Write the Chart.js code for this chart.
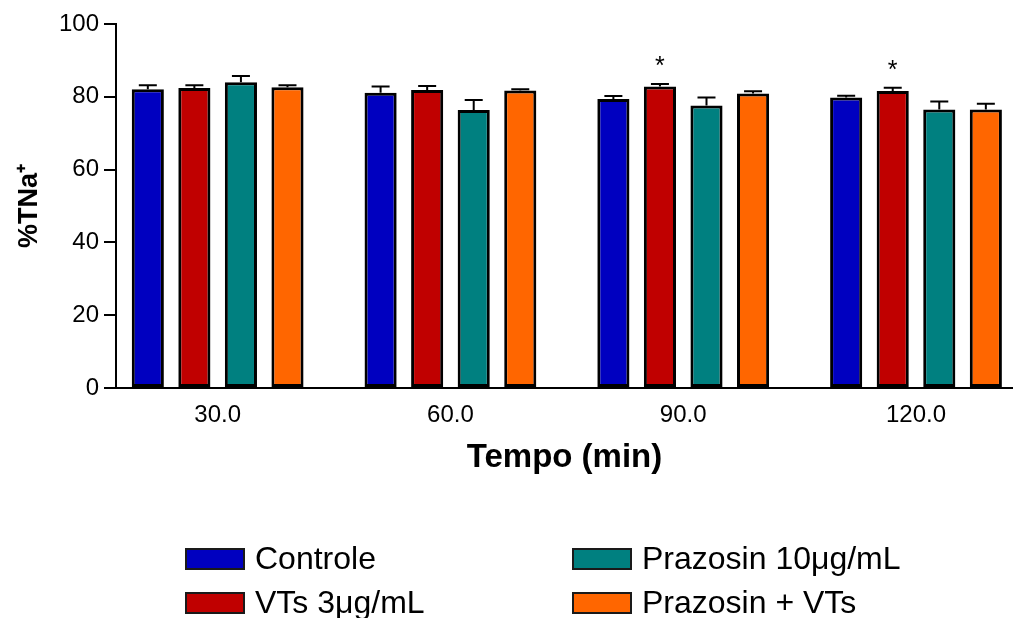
<!DOCTYPE html>
<html>
<head>
<meta charset="utf-8">
<title>%TNa+ x Tempo</title>
<script src="https://cdn.jsdelivr.net/npm/chart.js@4.4.1/dist/chart.umd.min.js"></script>
<style>
  html, body { margin: 0; padding: 0; background: #fff; }
</style>
</head>
<body>
<canvas id="tna-chart" width="1013" height="618"></canvas>
<script>
const timepoints = [30, 60, 90, 120];
const seriesNames = ["Controle", "VTs 3μg/mL", "Prazosin 10μg/mL", "Prazosin + VTs"];
const seriesColors = ["#0000c0", "#c00000", "#008080", "#ff6600"];

const controle = [82.1, 81.1, 79.4, 79.8];
const controleErr = [1.1, 1.7, 0.8, 0.5];
const vts = [82.4, 81.9, 82.8, 81.6];
const vtsErr = [0.8, 1.1, 0.7, 0.9];
const prazosin = [84.0, 76.4, 77.6, 76.5];
const prazosinErr = [1.7, 2.7, 2.2, 2.2];
const prazosinVts = [82.6, 81.7, 80.9, 76.5];
const prazosinVtsErr = [0.6, 0.4, 0.6, 1.6];

// significance marks, only on VTs
const vtsStars = ["", "", "*", "*"];

const yTicks = [0, 20, 40, 60, 80, 100];

const FONT = "'Liberation Sans', Arial, sans-serif";

const allValues = [controle, vts, prazosin, prazosinVts];
const allErrors = [controleErr, vtsErr, prazosinErr, prazosinVtsErr];
const allStars = [[], vtsStars, [], []];

const datasets = seriesNames.map((name, i) => ({
    label: name,
    data: timepoints.map((t, j) => ({ x: t, y: allValues[i][j] })),
    errors: allErrors[i],
    stars: allStars[i],
    backgroundColor: seriesColors[i],
    borderColor: '#000',
    borderWidth: 3,
    borderSkipped: false,
    categoryPercentage: 0.8,
    barPercentage: 0.69
}));

// error bars (upper only) + asterisks
const errorBars = {
    id: 'errorBars',
    afterDatasetsDraw(chart) {
        const ctx = chart.ctx;
        const yScale = chart.scales.y;
        ctx.save();
        ctx.strokeStyle = '#000';
        ctx.lineWidth = 2;
        chart.data.datasets.forEach((ds, i) => {
            const meta = chart.getDatasetMeta(i);
            meta.data.forEach((bar, j) => {
                const top = yScale.getPixelForValue(ds.data[j].y + ds.errors[j]);
                ctx.beginPath();
                ctx.moveTo(bar.x, bar.y);
                ctx.lineTo(bar.x, top);
                ctx.moveTo(bar.x - 9, top);
                ctx.lineTo(bar.x + 9, top);
                ctx.stroke();
                if (ds.stars[j]) {
                    ctx.fillStyle = '#000';
                    ctx.font = '25px ' + FONT;
                    ctx.textAlign = 'center';
                    ctx.textBaseline = 'alphabetic';
                    ctx.fillText(ds.stars[j], bar.x, top - 10);
                }
            });
        });
        ctx.restore();
    }
};

// legend in two columns like the original figure
const gridLegend = {
    id: 'gridLegend',
    afterDraw(chart) {
        const ctx = chart.ctx;
        const cols = [185, 572];
        const rows = [548, 592];
        ctx.save();
        ctx.font = '32px ' + FONT;
        ctx.textBaseline = 'middle';
        ctx.textAlign = 'left';
        chart.data.datasets.forEach((ds, i) => {
            const x = cols[Math.floor(i / 2)];
            const y = rows[i % 2];
            ctx.fillStyle = ds.backgroundColor;
            ctx.fillRect(x, y, 60, 22);
            ctx.strokeStyle = '#1a1a1a';
            ctx.lineWidth = 2;
            ctx.strokeRect(x + 1, y + 1, 58, 20);
            ctx.fillStyle = '#000';
            ctx.fillText(ds.label, x + 70, y + 12);
        });
        ctx.restore();
    }
};

const ctx = document.getElementById('tna-chart').getContext('2d');
const chart = new Chart(ctx, {
    type: 'bar',
    data: { datasets: datasets },
    plugins: [errorBars, gridLegend],
    options: {
        responsive: false,
        animation: false,
        devicePixelRatio: 1,
        layout: { padding: { top: 24, right: 0, bottom: 140, left: 0 } },
        plugins: {
            legend: { display: false },
            tooltip: { enabled: false }
        },
        scales: {
            x: {
                type: 'linear',
                min: 16.9,
                max: 132.5,
                offset: false,
                grid: { display: false },
                border: { display: true, color: '#000', width: 2 },
                afterBuildTicks: (scale) => {
                    scale.ticks = timepoints.map(v => ({ value: v }));
                },
                afterFit: (scale) => { scale.height = 90; },
                ticks: {
                    color: '#000',
                    padding: 5,
                    maxRotation: 0,
                    font: { family: FONT, size: 24 },
                    callback: (v) => Number(v).toFixed(1)
                },
                title: {
                    display: true,
                    text: 'Tempo (min)',
                    color: '#000',
                    padding: { top: 0, bottom: 0 },
                    font: { family: FONT, size: 33, weight: 'bold' }
                }
            },
            y: {
                min: 0,
                max: 100,
                afterBuildTicks: (scale) => {
                    scale.ticks = yTicks.map(v => ({ value: v }));
                },
                afterFit: (scale) => { scale.width = 116; },
                grid: {
                    drawOnChartArea: false,
                    drawTicks: true,
                    tickLength: 12,
                    color: '#000',
                    lineWidth: 2
                },
                border: { display: true, color: '#000', width: 2 },
                ticks: {
                    color: '#000',
                    padding: 5,
                    font: { family: FONT, size: 24 }
                },
                title: {
                    display: true,
                    text: '%TNa⁺',
                    color: '#000',
                    padding: { top: 13, bottom: 0 },
                    font: { family: FONT, size: 27, weight: 'bold' }
                }
            }
        }
    }
});
</script>
</body>
</html>
